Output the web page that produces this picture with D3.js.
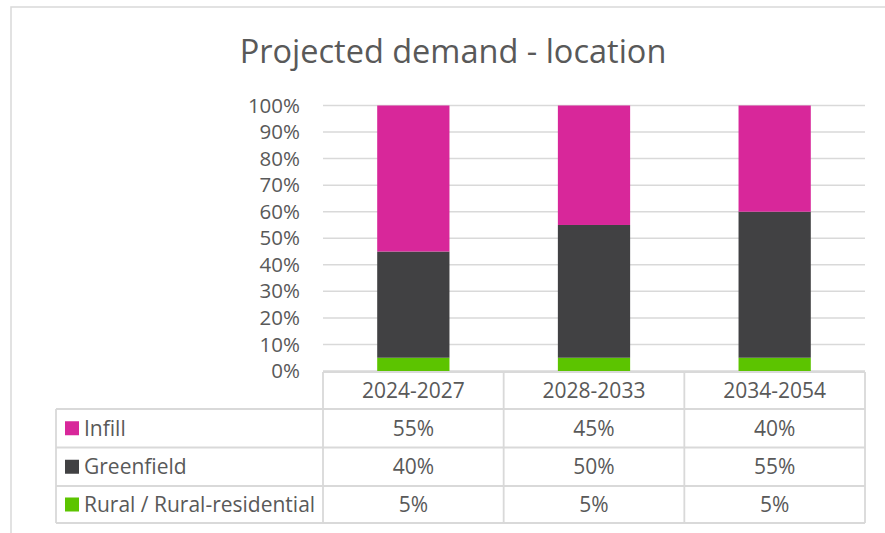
<!DOCTYPE html>
<html>
<head>
<meta charset="utf-8">
<script src="https://cdn.jsdelivr.net/npm/d3@7"></script>
<style>
  html, body { margin: 0; padding: 0; background: #fff; }
  svg { display: block; font-family: "Open Sans", Lato, sans-serif; }
</style>
</head>
<body>
<svg id="chart" width="885" height="533"></svg>
<script>
// Projected demand by location, share of total per period
const categories = ["2024-2027", "2028-2033", "2034-2054"];
const seriesNames = ["Infill", "Greenfield", "Rural / Rural-residential"];
const infill = [55, 45, 40];
const greenfield = [40, 50, 55];
const rural = [5, 5, 5];
const yTicks = [0, 10, 20, 30, 40, 50, 60, 70, 80, 90, 100];
const colors = { "Infill": "#d8279a", "Greenfield": "#414143", "Rural / Rural-residential": "#5cc400" };

const seriesValues = { "Infill": infill, "Greenfield": greenfield, "Rural / Rural-residential": rural };
const rows = categories.map((c, i) => {
  const r = { category: c };
  seriesNames.forEach(s => r[s] = seriesValues[s][i]);
  return r;
});

const svg = d3.select("#chart");
const textColor = "#595959";
const lineColor = "#d9d9d9";

// chart frame
svg.append("path")
  .attr("d", "M11,533 L11,7 L885,7")
  .attr("fill", "none").attr("stroke", lineColor).attr("stroke-width", 1.5);

// title
svg.append("text")
  .attr("x", 453).attr("y", 63)
  .attr("text-anchor", "middle")
  .attr("fill", textColor)
  .attr("font-size", 32.5)
  .text("Projected demand - location");

const x = d3.scaleBand().domain(categories).range([323, 865]).padding(0);
const y = d3.scaleLinear().domain([0, 100]).range([371, 105.5]);

// gridlines
svg.append("g").selectAll("line").data(yTicks).join("line")
  .attr("x1", 323).attr("x2", 865)
  .attr("y1", d => y(d)).attr("y2", d => y(d))
  .attr("stroke", lineColor).attr("stroke-width", 1.5);

// y axis labels
const yAxis = d3.axisLeft(y).tickValues(yTicks).tickFormat(d => d + "%").tickSize(0).tickPadding(0);
const yg = svg.append("g").attr("transform", "translate(300,0)").call(yAxis);
yg.select(".domain").remove();
yg.selectAll("text")
  .attr("fill", textColor).attr("font-size", 20.5)
  .attr("font-family", "'Open Sans', sans-serif");

// stacked bars
const stack = d3.stack().keys(["Rural / Rural-residential", "Greenfield", "Infill"]);
const stacked = stack(rows);
const barW = x.bandwidth() * 0.4;
svg.append("g").selectAll("g").data(stacked).join("g")
  .attr("fill", d => colors[d.key])
  .selectAll("rect").data(d => d).join("rect")
  .attr("x", d => x(d.data.category) + (x.bandwidth() - barW) / 2)
  .attr("width", barW)
  .attr("y", d => y(d[1]))
  .attr("height", d => y(d[0]) - y(d[1]));

// data table
const tableLeft = 56;
const rowTop = [372, 409, 447.5, 486];
const rowBottom = 523;
const colEdges = [323].concat(categories.map(c => x(c) + x.bandwidth()));
const tbl = svg.append("g").attr("stroke", lineColor).attr("stroke-width", 1.8).attr("fill", "none");

// horizontal lines
tbl.append("line").attr("x1", 323).attr("x2", 865).attr("y1", rowTop[0]).attr("y2", rowTop[0]);
rowTop.slice(1).concat([rowBottom]).forEach(yy => {
  tbl.append("line").attr("x1", tableLeft).attr("x2", 865).attr("y1", yy).attr("y2", yy);
});
// vertical lines
tbl.append("line").attr("x1", tableLeft).attr("x2", tableLeft).attr("y1", rowTop[1]).attr("y2", rowBottom);
colEdges.forEach(xx => {
  tbl.append("line").attr("x1", xx).attr("x2", xx).attr("y1", rowTop[0]).attr("y2", rowBottom);
});

// header labels
svg.append("g").selectAll("text").data(categories).join("text")
  .attr("x", d => x(d) + x.bandwidth() / 2)
  .attr("y", (rowTop[0] + rowTop[1]) / 2)
  .attr("dy", "0.35em")
  .attr("text-anchor", "middle")
  .attr("fill", textColor).attr("font-size", 21)
  .text(d => d);

// series rows
const rowCenters = [
  (rowTop[1] + rowTop[2]) / 2,
  (rowTop[2] + rowTop[3]) / 2,
  (rowTop[3] + rowBottom) / 2
];
seriesNames.forEach((s, i) => {
  const cy = rowCenters[i];
  svg.append("rect")
    .attr("x", 65).attr("y", cy - 7).attr("width", 14).attr("height", 14)
    .attr("fill", colors[s]);
  svg.append("text")
    .attr("x", 84).attr("y", cy).attr("dy", "0.35em")
    .attr("fill", textColor).attr("font-size", 21)
    .text(s);
  svg.append("g").selectAll("text").data(categories).join("text")
    .attr("x", d => x(d) + x.bandwidth() / 2)
    .attr("y", cy).attr("dy", "0.35em")
    .attr("text-anchor", "middle")
    .attr("fill", textColor).attr("font-size", 21)
    .text((d, j) => seriesValues[s][j] + "%");
});
</script>
</body>
</html>
